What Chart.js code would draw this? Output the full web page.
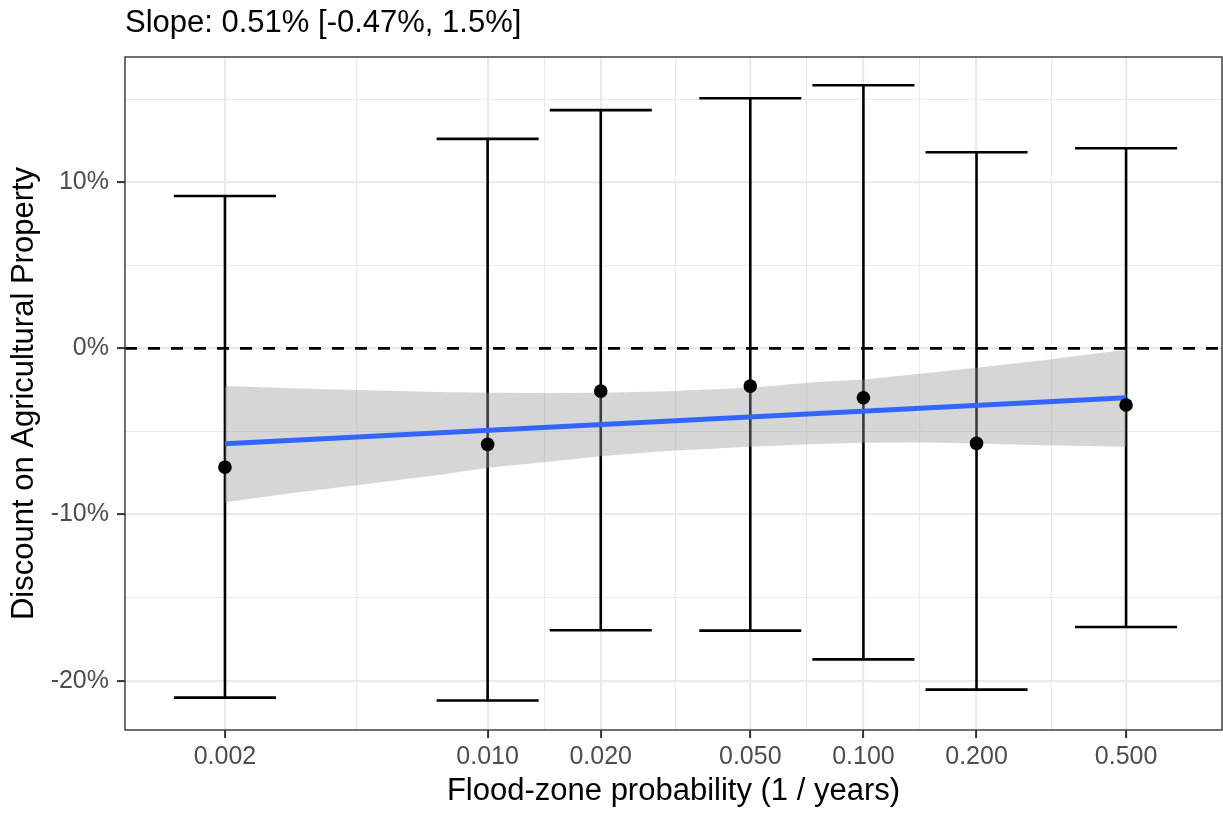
<!DOCTYPE html>
<html>
<head>
<meta charset="utf-8">
<script src="https://cdn.jsdelivr.net/npm/chart.js@4.4.0/dist/chart.umd.min.js"></script>
<style>
  html, body { margin: 0; padding: 0; background: #fff; }
  #wrap { width: 1223px; height: 814px; position: relative; }
</style>
</head>
<body>
<div id="wrap"><canvas id="chart"></canvas></div>
<script>
// flood-zone probability (1 / years) of each bin
const probs = [0.002, 0.010, 0.020, 0.050, 0.100, 0.200, 0.500];
// estimated discount (%) with its confidence interval
const estimates = [-7.15, -5.78, -2.57, -2.27, -2.97, -5.72, -3.41];
const ciLow = [-21.02, -21.19, -16.97, -16.99, -18.72, -20.54, -16.77];
const ciHigh = [9.17, 12.61, 14.34, 15.06, 15.84, 11.81, 12.05];

// fitted line (straight in log x) and its confidence band
const fitX = [0.002, 0.5];
const fitY = [-5.74, -2.97];
const bandX = [0.002, 0.003, 0.005, 0.0075, 0.01, 0.015, 0.02, 0.03, 0.05, 0.075, 0.1, 0.15, 0.2, 0.3, 0.5];
const bandUpper = [-2.27, -2.40, -2.53, -2.62, -2.67, -2.68, -2.67, -2.58, -2.37, -2.03, -1.87, -1.47, -1.16, -0.72, -0.08];
const bandLower = [-9.26, -8.72, -8.10, -7.60, -7.19, -6.80, -6.49, -6.18, -5.92, -5.76, -5.68, -5.66, -5.72, -5.83, -5.92];

// axes
const xMin = 0.001084, xMax = 0.90;
const yMin = -22.97, yMax = 17.54;
const xMajor = [0.002, 0.01, 0.02, 0.05, 0.1, 0.2, 0.5];
const xLabels = ['0.002', '0.010', '0.020', '0.050', '0.100', '0.200', '0.500'];
const xMinor = [0.004472, 0.014142, 0.031623, 0.070711, 0.141421, 0.316228];
const yMajor = [-20, -10, 0, 10];
const yMinor = [-15, -5, 5, 15];

const subtitle = 'Slope: 0.51% [-0.47%, 1.5%]';
const capFactor = 1.367; // half width of the error bar caps, in log units

const FONT = "'Liberation Sans', Arial, Helvetica, sans-serif";
Chart.defaults.font.family = FONT;

// error bars go under the smoother, like geom_errorbar before geom_smooth
const errorBars = {
    id: 'errorBars',
    beforeDatasetsDraw(chart) {
        const { ctx, scales: { x, y } } = chart;
        ctx.save();
        ctx.strokeStyle = '#000';
        ctx.lineWidth = 2.6;
        probs.forEach((p, i) => {
            const px = x.getPixelForValue(p);
            const left = x.getPixelForValue(p / capFactor);
            const right = x.getPixelForValue(p * capFactor);
            const top = y.getPixelForValue(ciHigh[i]);
            const bot = y.getPixelForValue(ciLow[i]);
            ctx.beginPath();
            ctx.moveTo(px, top); ctx.lineTo(px, bot);
            ctx.moveTo(left, top); ctx.lineTo(right, top);
            ctx.moveTo(left, bot); ctx.lineTo(right, bot);
            ctx.stroke();
        });
        ctx.restore();
    }
};

// dashed zero line, panel border and subtitle
const decorations = {
    id: 'decorations',
    afterDatasetsDraw(chart) {
        const { ctx, chartArea: a, scales: { y } } = chart;
        const y0 = y.getPixelForValue(0);
        ctx.save();
        ctx.strokeStyle = '#000';
        ctx.lineWidth = 2.6;
        ctx.setLineDash([12, 11]);
        ctx.beginPath();
        ctx.moveTo(a.left, y0);
        ctx.lineTo(a.right, y0);
        ctx.stroke();
        ctx.setLineDash([]);
        ctx.strokeStyle = '#333333';
        ctx.lineWidth = 1.4;
        ctx.strokeRect(a.left, a.top, a.right - a.left, a.bottom - a.top);
        ctx.restore();
    },
    afterDraw(chart) {
        const { ctx, chartArea: a } = chart;
        ctx.save();
        ctx.fillStyle = '#000';
        ctx.font = '31px ' + FONT;
        ctx.textBaseline = 'alphabetic';
        ctx.fillText(subtitle, a.left, 32);
        ctx.restore();
    }
};

const isMajorX = v => xMajor.includes(v);
const isMajorY = v => yMajor.includes(v);

new Chart(document.getElementById('chart'), {
    type: 'line',
    data: {
        datasets: [
            {
                // band upper edge, filled down to the lower edge
                data: bandX.map((v, i) => ({ x: v, y: bandUpper[i] })),
                borderWidth: 0,
                pointRadius: 0,
                fill: '+1',
                backgroundColor: 'rgba(153,153,153,0.4)',
                order: 3
            },
            {
                data: bandX.map((v, i) => ({ x: v, y: bandLower[i] })),
                borderWidth: 0,
                pointRadius: 0,
                fill: false,
                order: 3
            },
            {
                data: fitX.map((v, i) => ({ x: v, y: fitY[i] })),
                borderColor: '#3366FF',
                borderWidth: 5,
                pointRadius: 0,
                fill: false,
                order: 2
            },
            {
                data: probs.map((p, i) => ({ x: p, y: estimates[i] })),
                showLine: false,
                pointRadius: 6.8,
                pointBackgroundColor: '#000',
                pointBorderWidth: 0,
                order: 1
            }
        ]
    },
    options: {
        responsive: true,
        maintainAspectRatio: false,
        animation: false,
        layout: { autoPadding: false, padding: { top: 57, right: 1, left: 0, bottom: 0 } },
        plugins: {
            legend: { display: false },
            tooltip: { enabled: false }
        },
        scales: {
            x: {
                type: 'logarithmic',
                min: xMin, max: xMax,
                bounds: 'data',
                afterFit(scale) {
                    scale.height = 84;
                    scale.paddingLeft = 0;
                    scale.paddingRight = 0;
                },
                afterBuildTicks(scale) {
                    scale.ticks = xMajor.concat(xMinor).sort((a, b) => a - b).map(v => ({ value: v }));
                },
                grid: {
                    color: '#ebebeb',
                    lineWidth: c => (c.tick && isMajorX(c.tick.value)) ? 2.2 : 1.1,
                    tickColor: c => (c.tick && isMajorX(c.tick.value)) ? '#333333' : 'rgba(0,0,0,0)',
                    tickWidth: 2,
                    tickLength: 8,
                    drawTicks: true
                },
                border: { display: false },
                ticks: {
                    callback: v => { const i = xMajor.indexOf(v); return i >= 0 ? xLabels[i] : ''; },
                    autoSkip: false,
                    maxRotation: 0,
                    minRotation: 0,
                    padding: 4,
                    color: '#4d4d4d',
                    font: { size: 25 }
                },
                title: {
                    display: true,
                    text: 'Flood-zone probability (1 / years)',
                    color: '#000',
                    font: { size: 31 },
                    padding: { top: 0, bottom: 4 }
                }
            },
            y: {
                min: yMin, max: yMax,
                bounds: 'data',
                afterFit(scale) {
                    scale.width = 125;
                    scale.paddingTop = 0;
                    scale.paddingBottom = 0;
                },
                afterBuildTicks(scale) {
                    scale.ticks = yMajor.concat(yMinor).sort((a, b) => a - b).map(v => ({ value: v }));
                },
                grid: {
                    color: '#ebebeb',
                    lineWidth: c => (c.tick && isMajorY(c.tick.value)) ? 2.2 : 1.1,
                    tickColor: c => (c.tick && isMajorY(c.tick.value)) ? '#333333' : 'rgba(0,0,0,0)',
                    tickWidth: 2,
                    tickLength: 8,
                    drawTicks: true
                },
                border: { display: false },
                ticks: {
                    callback: v => isMajorY(v) ? v + '%' : '',
                    autoSkip: false,
                    padding: 8,
                    color: '#4d4d4d',
                    font: { size: 25 }
                },
                title: {
                    display: true,
                    text: 'Discount on Agricultural Property',
                    color: '#000',
                    font: { size: 31 },
                    padding: { top: 6, bottom: 0 }
                }
            }
        }
    },
    plugins: [errorBars, decorations]
});
</script>
</body>
</html>
